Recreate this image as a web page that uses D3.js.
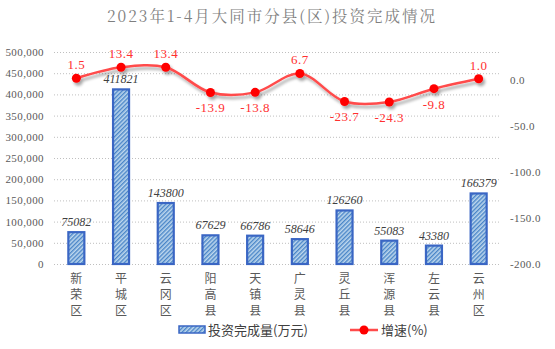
<!DOCTYPE html>
<html><head><meta charset="utf-8">
<script src="https://cdn.jsdelivr.net/npm/d3@7"></script>
<style>body{margin:0;background:#fff}svg{display:block}</style>
</head><body>
<svg id="c" width="555" height="349"></svg>
<script>
const title = "2023年1-4月大同市分县(区)投资完成情况";
const categories = ["新荣区","平城区","云冈区","阳高县","天镇县","广灵县","灵丘县","浑源县","左云县","云州区"];
const investment = [75082, 411821, 143800, 67629, 66786, 58646, 126260, 55083, 43380, 166379];
const growth = [1.5, 13.4, 13.4, -13.9, -13.8, 6.7, -23.7, -24.3, -9.8, 1.0];
const leftTicks = [0, 50000, 100000, 150000, 200000, 250000, 300000, 350000, 400000, 450000, 500000];
const rightTicks = [0, -50, -100, -150, -200];
const legendLabels = ["投资完成量(万元)", "增速(%)"];

const svg = d3.select("#c");
const cjk = "'Noto Sans CJK SC', sans-serif";
const num = "'Liberation Serif', 'DejaVu Serif', serif";
const plot = {l: 54, r: 501, t: 52, b: 264};
const fmt1 = d => d3.format(".1f")(d).replace("\u2212", "-");

const x = d3.scaleBand().domain(categories).range([plot.l, plot.r]);
const yL = d3.scaleLinear().domain([0, 500000]).range([plot.b, plot.t]);
const yR = d3.scaleLinear().domain([-200, 30]).range([plot.b, plot.t]);

const defs = svg.append("defs");
const pat = defs.append("pattern").attr("id","hatch").attr("patternUnits","userSpaceOnUse")
  .attr("width",3).attr("height",3).attr("patternTransform","rotate(45)");
pat.append("rect").attr("width",3).attr("height",3).attr("fill","#BDD7EE");
pat.append("rect").attr("width",1.4).attr("height",3).attr("fill","#4A86C8");
const f = defs.append("filter").attr("id","sh").attr("x","-20%").attr("y","-50%").attr("width","140%").attr("height","200%");
f.append("feGaussianBlur").attr("in","SourceAlpha").attr("stdDeviation",1.5).attr("result","b");
f.append("feOffset").attr("in","b").attr("dx",2).attr("dy",3).attr("result","o");
f.append("feComponentTransfer").attr("in","o").attr("result","o2").append("feFuncA").attr("type","linear").attr("slope",0.35);
const m = f.append("feMerge"); m.append("feMergeNode").attr("in","o2"); m.append("feMergeNode").attr("in","SourceGraphic");

// title
svg.append("text").attr("x",272).attr("y",22).attr("text-anchor","middle")
  .attr("font-family","'Noto Serif CJK SC', 'Noto Sans CJK SC', serif").attr("font-size",15.5)
  .attr("letter-spacing",2).attr("fill","#7F7F7F").text(title);

// gridlines
svg.append("g").selectAll("line").data(leftTicks).join("line")
  .attr("x1",plot.l).attr("x2",plot.r).attr("y1",d=>yL(d)+0.5).attr("y2",d=>yL(d)+0.5)
  .attr("stroke","#BFBFBF").attr("stroke-width",1).attr("stroke-dasharray","1,2");

// left axis
const gl = svg.append("g").attr("transform",`translate(${plot.l},0)`)
  .call(d3.axisLeft(yL).tickValues(leftTicks).tickFormat(d3.format(",")).tickSize(0).tickPadding(10));
gl.select(".domain").remove();
gl.selectAll("text").attr("font-family",num).attr("font-size",11).attr("letter-spacing",0.4).attr("fill","#595959");

// right axis
const gr = svg.append("g").attr("transform",`translate(${plot.r},0)`)
  .call(d3.axisRight(yR).tickValues(rightTicks).tickFormat(fmt1).tickSize(0).tickPadding(9));
gr.select(".domain").remove();
gr.selectAll("text").attr("font-family",num).attr("font-size",11).attr("letter-spacing",0.4).attr("fill","#595959");

// category labels (vertical)
const cg = svg.append("g");
categories.forEach(c => {
  const t = cg.append("text").attr("x", x(c)+x.bandwidth()/2).attr("text-anchor","middle")
    .attr("font-family",cjk).attr("font-size",12).attr("fill","#595959");
  [...c].forEach((ch,i) => t.append("tspan").attr("x", x(c)+x.bandwidth()/2).attr("y", 283+i*16).text(ch));
});

// bars
const bw = 16;
svg.append("g").selectAll("rect").data(investment).join("rect")
  .attr("x",(d,i)=>x(categories[i])+x.bandwidth()/2-bw/2)
  .attr("y",d=>yL(d)).attr("width",bw).attr("height",d=>plot.b-yL(d))
  .attr("fill","url(#hatch)").attr("stroke","#3A66C4").attr("stroke-width",2.2);

svg.append("g").selectAll("text").data(investment).join("text")
  .attr("x",(d,i)=>x(categories[i])+x.bandwidth()/2).attr("y",d=>yL(d)-6)
  .attr("text-anchor","middle").attr("font-family",num).attr("font-style","italic")
  .attr("font-size",12).attr("fill","#404040").text(d=>d);

// line
const pts = growth.map((v,i)=>[x(categories[i])+x.bandwidth()/2, yR(v)]);
const lg = svg.append("g").attr("filter","url(#sh)");
lg.append("path").attr("d", d3.line().curve(d3.curveCatmullRom.alpha(0.5))(pts))
  .attr("fill","none").attr("stroke","#FF4B4B").attr("stroke-width",2.5);
lg.selectAll("circle").data(pts).join("circle").attr("cx",d=>d[0]).attr("cy",d=>d[1]).attr("r",4.5).attr("fill","#FF0000");

svg.append("g").selectAll("text").data(growth).join("text")
  .attr("x",(d,i)=>pts[i][0]).attr("y",(d,i)=> d>=0 ? pts[i][1]-9 : pts[i][1]+20)
  .attr("text-anchor","middle").attr("font-family",num).attr("font-size",13).attr("letter-spacing",0.5).attr("fill","#FF3030")
  .text(fmt1);

// legend
const L = svg.append("g");
L.append("rect").attr("x",179).attr("y",326).attr("width",26).attr("height",7)
  .attr("fill","url(#hatch)").attr("stroke","#3A66C4").attr("stroke-width",1.5);
L.append("text").attr("x",208).attr("y",335).attr("font-family",cjk).attr("font-size",13).attr("fill","#404040").text(legendLabels[0]);
L.append("line").attr("x1",350).attr("x2",378).attr("y1",330).attr("y2",330).attr("stroke","#FF4B4B").attr("stroke-width",2.5);
L.append("circle").attr("cx",364).attr("cy",330).attr("r",4.5).attr("fill","#FF0000");
L.append("text").attr("x",381).attr("y",335).attr("font-family",cjk).attr("font-size",13).attr("fill","#404040").text(legendLabels[1]);
</script>
</body></html>
